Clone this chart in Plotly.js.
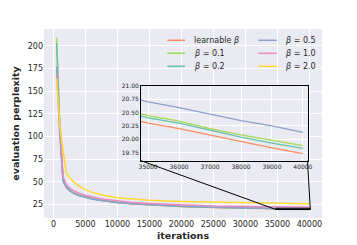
<!DOCTYPE html>
<html>
<head>
<meta charset="utf-8">
<script src="https://cdn.plot.ly/plotly-3.0.1.min.js"></script>
<style>html,body{margin:0;padding:0;background:#fff;}#chart{width:357px;height:245px;}</style>
</head>
<body>
<div id="chart"></div>
<script>
// ---- data ----
var iterations = [500, 1000, 1500, 2000, 2500, 3000, 4000, 5000, 6000, 7000, 8000, 10000, 12000, 15000, 20000, 25000, 30000, 35000, 36000, 37000, 38000, 39000, 40000];
var learnableBeta = [172, 105, 51.5, 44.3, 40.8, 38.3, 35.0, 33.0, 31.4, 30.0, 29.0, 27.3, 26.1, 24.9, 22.9, 21.8, 21.0, 20.30, 20.20, 20.08, 19.95, 19.84, 19.73];
var beta01 = [209, 112, 52.5, 45.0, 41.3, 38.8, 35.4, 33.4, 31.7, 30.3, 29.3, 27.6, 26.4, 25.2, 23.2, 22.1, 21.2, 20.44, 20.34, 20.20, 20.08, 19.98, 19.88];
var beta02 = [203, 110, 52.0, 44.7, 41.0, 38.5, 35.2, 33.2, 31.5, 30.1, 29.1, 27.4, 26.2, 25.0, 23.0, 22.0, 21.1, 20.40, 20.30, 20.17, 20.04, 19.93, 19.83];
var beta05 = [177, 100, 51.0, 44.0, 40.5, 38.1, 34.9, 32.9, 31.3, 30.0, 29.0, 27.4, 26.3, 25.1, 23.2, 22.2, 21.4, 20.70, 20.59, 20.47, 20.35, 20.25, 20.13];
var beta10 = [168, 108, 56.0, 47.5, 43.5, 41.0, 37.6, 35.3, 33.4, 32.0, 30.9, 29.0, 27.6, 26.3, 24.5, 23.4, 22.8, 22.4, 22.3, 22.25, 22.2, 22.1, 22.0];
var beta20 = [164, 112, 85, 60, 55, 51, 45.5, 41.5, 38.8, 36.6, 35.0, 32.7, 31.3, 29.8, 28.5, 27.6, 27.0, 26.5, 26.4, 26.3, 26.2, 26.1, 26.0];

var seriesNames = ['learnable <i>β</i>', '<i>β</i> = 0.1', '<i>β</i> = 0.2', '<i>β</i> = 0.5', '<i>β</i> = 1.0', '<i>β</i> = 2.0'];
var seriesValues = [learnableBeta, beta01, beta02, beta05, beta10, beta20];
var seriesColors = ['#fc8d62', '#a6d854', '#66c2a5', '#8da0cb', '#e78ac3', '#ffd92f'];
var insetSeries = [0, 1, 2, 3, 4, 5];

var xTicks = [0, 5000, 10000, 15000, 20000, 25000, 30000, 35000, 40000];
var yTicks = [25, 50, 75, 100, 125, 150, 175, 200];
var insetXTicks = [35000, 36000, 37000, 38000, 39000, 40000];
var insetYTicks = [19.75, 20.00, 20.25, 20.50, 20.75, 21.00];
var insetYTickText = ['19.75', '20.00', '20.25', '20.50', '20.75', '21.00'];

// ---- ranges / geometry ----
var mainX = [-1475, 41975];
var mainY = [10.27, 218.46];
var insetX = [34770, 40150];
var insetY = [19.6, 21.0];
var insetDomX = [0.349, 0.948];
var insetDomY = [0.3032, 0.700];

var traces = [];
seriesValues.forEach(function (vals, i) {
  traces.push({x: iterations, y: vals, type: 'scatter', mode: 'lines', name: seriesNames[i],
    line: {color: seriesColors[i], width: 1.5}, xaxis: 'x', yaxis: 'y', showlegend: false, hoverinfo: 'skip'});
});
insetSeries.forEach(function (i) {
  traces.push({x: iterations, y: seriesValues[i], type: 'scatter', mode: 'lines',
    line: {color: seriesColors[i], width: 1.3}, xaxis: 'x2', yaxis: 'y2', showlegend: false, hoverinfo: 'skip'});
});

function px(v) { return (v - mainX[0]) / (mainX[1] - mainX[0]); }
function py(v) { return (v - mainY[0]) / (mainY[1] - mainY[0]); }

var shapes = [
  {type: 'rect', xref: 'x', yref: 'y', x0: insetX[0], x1: insetX[1], y0: insetY[0], y1: insetY[1],
   line: {color: '#000', width: 1}, layer: 'above'},
  {type: 'line', xref: 'paper', yref: 'paper', x0: insetDomX[0], y0: insetDomY[0], x1: px(insetX[0]), y1: py(insetY[0]),
   line: {color: '#000', width: 1}, layer: 'above'},
  {type: 'line', xref: 'paper', yref: 'paper', x0: insetDomX[1], y0: insetDomY[0], x1: px(insetX[1]), y1: py(insetY[0]),
   line: {color: '#000', width: 1}, layer: 'above'}
];

// custom legend (two columns, filled column-wise)
var annotations = [];
var legCols = [{lx0: 0.4435, lx1: 0.5072, tx: 0.5313}, {lx0: 0.7709, lx1: 0.8371, tx: 0.8586}];
var legRows = [0.9402, 0.8714, 0.8026];
seriesNames.forEach(function (name, i) {
  var c = legCols[Math.floor(i / 3)], r = legRows[i % 3];
  shapes.push({type: 'line', xref: 'paper', yref: 'paper', x0: c.lx0, x1: c.lx1, y0: r, y1: r,
    line: {color: seriesColors[i], width: 1.5}, layer: 'above'});
  annotations.push({xref: 'paper', yref: 'paper', x: c.tx, y: r, text: name, showarrow: false,
    xanchor: 'left', yanchor: 'middle', font: {family: 'DejaVu Sans', size: 8, color: '#262626'}});
});

var layout = {
  width: 357, height: 245,
  margin: {l: 44, r: 35, t: 29, b: 27, pad: 0},
  paper_bgcolor: '#ffffff',
  plot_bgcolor: '#eaeaf2',
  font: {family: 'DejaVu Sans', size: 8, color: '#262626'},
  showlegend: false,
  xaxis: {domain: [0, 1], range: mainX, tickvals: xTicks, tickformat: 'd', showgrid: true, gridcolor: '#ffffff', gridwidth: 1,
    zeroline: false, showline: false, ticks: '', tickfont: {size: 8, color: '#262626'},
    title: {text: 'iterations', font: {size: 9.5, weight: 'bold', color: '#262626'}, standoff: 4}},
  yaxis: {domain: [0, 1], range: mainY, tickvals: yTicks, showgrid: true, gridcolor: '#ffffff', gridwidth: 1,
    zeroline: false, showline: false, ticks: '', tickfont: {size: 8, color: '#262626'},
    title: {text: 'evaluation perplexity', font: {size: 9.5, weight: 'bold', color: '#262626'}, standoff: 6}},
  xaxis2: {domain: insetDomX, anchor: 'y2', range: insetX, tickvals: insetXTicks, tickformat: 'd', showgrid: true,
    gridcolor: '#ffffff', gridwidth: 1, zeroline: false, showline: true, mirror: true, linecolor: '#000', linewidth: 1,
    ticks: '', tickfont: {size: 6, color: '#262626'}},
  yaxis2: {domain: insetDomY, anchor: 'x2', range: insetY, tickvals: insetYTicks, ticktext: insetYTickText,
    showgrid: true, gridcolor: '#ffffff', gridwidth: 1, zeroline: false, showline: true, mirror: true,
    linecolor: '#000', linewidth: 1, ticks: '', tickfont: {size: 6, color: '#262626'}},
  shapes: shapes,
  annotations: annotations
};

Plotly.newPlot('chart', traces, layout, {staticPlot: true, displayModeBar: false});
</script>
</body>
</html>
